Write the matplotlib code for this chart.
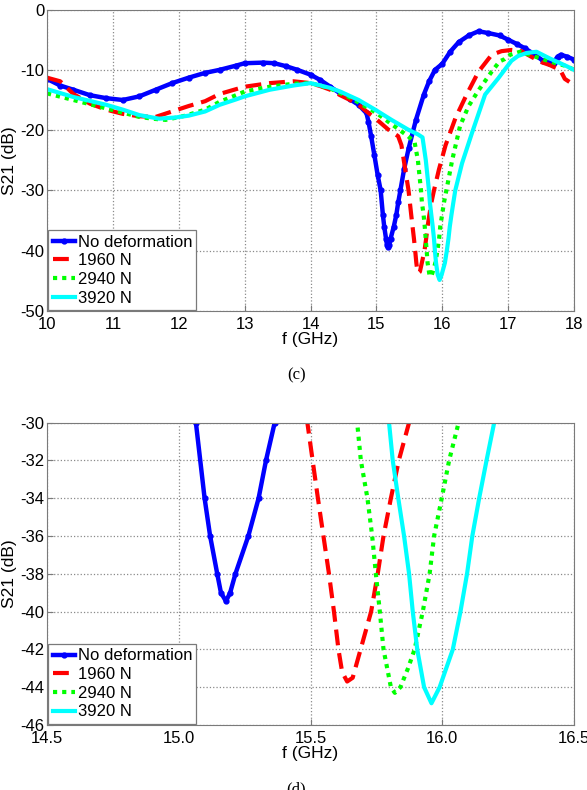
import matplotlib
matplotlib.use("Agg")
import matplotlib.pyplot as plt

plt.rcParams['font.family'] = ['Liberation Sans', 'DejaVu Sans']
plt.rcParams['axes.unicode_minus'] = False

# S21 traces (f in GHz, S21 in dB)
f_nodef = [10.0, 10.2, 10.4, 10.65, 10.9, 11.15, 11.4, 11.65, 11.9, 12.15, 12.4, 12.62,
           12.87, 13.0, 13.28, 13.45, 13.63, 13.8, 14.0, 14.15, 14.3, 14.45, 14.6, 14.73,
           14.85, 14.88, 14.92, 14.97, 15.02, 15.065, 15.098, 15.119, 15.146, 15.16, 15.179,
           15.195, 15.215, 15.264, 15.303, 15.331, 15.364, 15.42, 15.49, 15.6, 15.72, 15.8,
           15.89, 16.0, 16.12, 16.25, 16.4, 16.55, 16.7, 16.87, 17.0, 17.13, 17.25, 17.38,
           17.53, 17.62, 17.69, 17.75, 17.8, 17.89, 18.0]
s_nodef = [-11.5, -12.6, -13.3, -14.2, -14.7, -15.0, -14.4, -13.3, -12.2, -11.3, -10.5, -10.0,
           -9.3, -8.9, -8.8, -8.9, -9.4, -10.0, -10.8, -11.7, -12.8, -13.9, -14.9, -15.8,
           -17.2, -18.6, -21.0, -24.2, -27.5, -30.0, -34.0, -36.0, -38.0, -39.0, -39.45,
           -39.0, -38.0, -36.0, -34.0, -32.0, -30.0, -26.5, -23.0, -18.3, -14.1, -11.9,
           -10.0, -9.0, -7.0, -5.4, -4.3, -3.6, -3.9, -4.3, -5.0, -5.7, -6.4, -7.3,
           -8.5, -8.8, -8.8, -7.8, -7.5, -7.8, -8.3]

f_1960 = [10.0, 10.2, 10.4, 10.65, 10.9, 11.15, 11.4, 11.65, 11.9, 12.15, 12.4, 12.62,
          12.87, 13.0, 13.38, 13.74, 14.0, 14.15, 14.3, 14.45, 14.6, 14.73, 14.85, 14.98,
          15.18, 15.33, 15.38, 15.43, 15.488, 15.528, 15.549, 15.57, 15.589, 15.606, 15.62,
          15.639, 15.66, 15.69, 15.73, 15.755, 15.777, 15.805, 15.835, 15.874, 15.95, 16.05,
          16.2, 16.37, 16.55, 16.75, 16.9, 17.05, 17.2, 17.38, 17.5, 17.63, 17.79, 17.86, 17.93]
s_1960 = [-11.3, -11.9, -14.0, -15.6, -16.6, -17.3, -17.7, -17.8, -16.9, -16.0, -15.2, -14.0,
          -13.2, -12.8, -12.2, -11.9, -12.2, -12.7, -13.3, -14.2, -15.0, -15.8, -16.9, -18.0,
          -19.9, -21.0, -22.5, -26.0, -30.0, -34.0, -36.0, -38.0, -40.0, -42.0, -43.2,
          -43.7, -43.5, -42.0, -40.0, -38.0, -36.0, -34.0, -32.0, -30.0, -26.5, -22.5,
          -18.0, -14.1, -10.3, -7.5, -6.9, -6.7, -6.9, -8.0, -8.7, -9.2, -10.0, -11.5, -12.0]

f_2940 = [10.0, 10.4, 10.9, 11.15, 11.4, 11.6, 11.8, 12.1, 12.4, 12.62, 12.87, 13.0, 13.38,
          13.74, 14.0, 14.3, 14.6, 14.98, 15.23, 15.48, 15.58, 15.63, 15.677, 15.691, 15.716,
          15.734, 15.748, 15.763, 15.777, 15.805, 15.82, 15.841, 15.87, 15.895, 15.926, 15.952,
          15.969, 15.998, 16.026, 16.062, 16.15, 16.27, 16.4, 16.55, 16.75, 16.87, 16.95, 17.03,
          17.18, 17.38, 17.63, 17.89, 18.0]
s_2940 = [-13.9, -15.0, -16.4, -17.1, -17.8, -18.1, -18.3, -17.6, -16.6, -15.3, -14.2, -13.6, -12.8,
          -12.3, -12.2, -13.1, -14.6, -17.0, -19.0, -21.0, -22.0, -25.0, -30.0, -32.0, -34.0,
          -36.0, -38.0, -40.0, -42.0, -44.0, -44.3, -44.0, -43.0, -42.0, -40.0, -38.0,
          -36.0, -34.0, -32.0, -30.0, -25.0, -19.3, -16.0, -13.4, -10.3, -8.6, -8.2, -7.5,
          -7.0, -7.7, -8.6, -9.4, -10.0]

f_3920 = [10.0, 10.4, 10.9, 11.15, 11.4, 11.7, 11.95, 12.15, 12.4, 12.62, 12.87, 13.0, 13.38,
          13.74, 14.0, 14.3, 14.45, 14.73, 14.98, 15.23, 15.48, 15.63, 15.7, 15.75, 15.798,
          15.812, 15.833, 15.855, 15.874, 15.888, 15.905, 15.931, 15.959, 15.99, 16.04, 16.069,
          16.094, 16.114, 16.14, 16.168, 16.197, 16.3, 16.45, 16.65, 16.85, 17.05, 17.15, 17.28,
          17.43, 17.63, 17.89, 18.0]
s_3920 = [-13.2, -14.5, -15.8, -16.6, -17.5, -18.1, -17.9, -17.6, -16.9, -15.8, -14.9, -14.4, -13.3,
          -12.6, -12.2, -13.0, -13.6, -15.0, -16.6, -18.3, -19.9, -20.7, -21.2, -25.0, -30.0,
          -32.0, -34.0, -36.0, -38.0, -40.0, -42.0, -44.0, -44.85, -44.0, -42.0, -40.0,
          -38.0, -36.0, -34.0, -32.0, -30.0, -25.5, -20.5, -14.1, -11.4, -8.5, -7.7, -7.2,
          -7.0, -8.1, -9.4, -10.0]

labels = ['No deformation', '1960 N', '2940 N', '3920 N']

top_xticks = [10, 11, 12, 13, 14, 15, 16, 17, 18]
top_yticks = [0, -10, -20, -30, -40, -50]
bot_xticks = [14.5, 15.0, 15.5, 16.0, 16.5]
bot_yticks = [-30, -32, -34, -36, -38, -40, -42, -44, -46]

fig = plt.figure(figsize=(5.87, 7.90), dpi=100)
ax_c = fig.add_axes([0.0801, 0.6063, 0.8978, 0.3816])
ax_d = fig.add_axes([0.0801, 0.0823, 0.8978, 0.3827])


def draw(ax):
    ax.plot(f_nodef, s_nodef, color='#0000ff', lw=3.2, marker='.', ms=7, label=labels[0])
    ax.plot(f_1960, s_1960, color='#ff0000', lw=3, ls=(0, (3.8, 1.9)), label=labels[1])
    ax.plot(f_2940, s_2940, color='#00ff00', lw=3, ls=(0, (1.0, 1.2)), label=labels[2])
    ax.plot(f_3920, s_3920, color='#00ffff', lw=3, label=labels[3])
    ax.grid(True, ls=':', color='#8a8a8a', lw=0.9)
    for sp in ax.spines.values():
        sp.set_color('#7a7a7a')
    ax.tick_params(direction='in', length=4, color='#7a7a7a', labelsize=12, pad=2)
    ax.tick_params(axis='x', pad=4)
    ax.set_ylabel('S21 (dB)', fontsize=12.5, labelpad=2)
    ax.set_xlabel('f (GHz)', fontsize=12.5, labelpad=0)
    leg = ax.legend(loc='lower left', fontsize=12, fancybox=False, framealpha=1,
                    edgecolor='#7a7a7a', borderaxespad=0.08, borderpad=0.25,
                    handlelength=1.35, handletextpad=0.15, labelspacing=0.22)
    leg.get_frame().set_linewidth(0.9)


draw(ax_c)
ax_c.set_xlim(10, 18)
ax_c.set_ylim(-50, 0)
ax_c.set_xticks(top_xticks)
ax_c.set_yticks(top_yticks)

draw(ax_d)
ax_d.set_xlim(14.5, 16.5)
ax_d.set_ylim(-46, -30)
ax_d.set_xticks(bot_xticks)
ax_d.set_xticklabels([f'{v:.1f}' for v in bot_xticks])
ax_d.set_yticks(bot_yticks)

fig.text(0.505, 1 - 375 / 790, '(c)', ha='center', va='center', fontsize=12,
         family=['Liberation Serif', 'DejaVu Serif'])
fig.text(0.505, 1 - 789 / 790, '(d)', ha='center', va='center', fontsize=12,
         family=['Liberation Serif', 'DejaVu Serif'])

fig.savefig('out.png', dpi=100)
